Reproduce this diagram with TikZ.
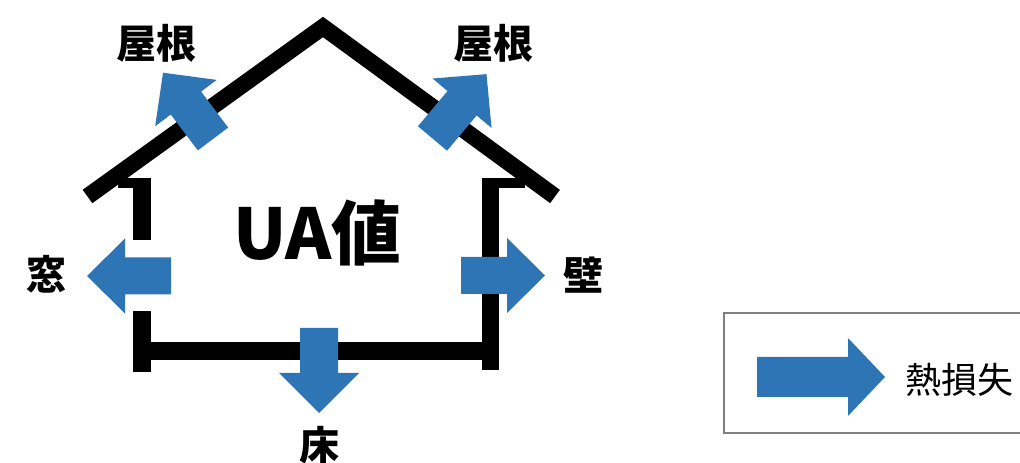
\documentclass[tikz,border=0pt]{standalone}
\usepackage{fontspec}
\newfontfamily\jp{Noto Sans CJK JP}
\definecolor{heatblue}{HTML}{2E75B6}
\definecolor{legendgray}{HTML}{7F7F7F}
\tikzset{
  heat/.style={fill=heatblue},
  wall/.style={fill=black},
  lbl/.style={inner sep=0pt, font=\jp\bfseries\fontsize{40}{40}\selectfont},
  title/.style={inner sep=0pt, font=\jp\bfseries\fontsize{70}{70}\selectfont},
  legendtext/.style={inner sep=0pt, font=\jp\fontsize{36}{36}\selectfont},
}
% base x, base y, angle, length, shaft width, head length, head width
\newcommand\heatarrow[7]{%
  \begin{scope}[shift={(#1,#2)},rotate=#3]
    \fill[heat] (0,{-#5/2}) -- ({#4-#6},{-#5/2}) -- ({#4-#6},{-#7/2}) -- (#4,0)
      -- ({#4-#6},{#7/2}) -- ({#4-#6},{#5/2}) -- (0,{#5/2}) -- cycle;
  \end{scope}}
\begin{document}
\begin{tikzpicture}[x=1pt,y=1pt]
\useasboundingbox (0,0) rectangle (1020,463);
% house outline
\draw[line width=16.5pt, line join=miter, line cap=butt] (87.5,266.5) -- (323,436) -- (555,266.5);
\fill[wall] (133,223) rectangle (151,285);
\fill[wall] (118,275) rectangle (142,285);
\fill[wall] (133,91) rectangle (151,152);
\fill[wall] (142,103) rectangle (490,121);
\fill[wall] (482,93) rectangle (499,285);
\fill[wall] (490,275) rectangle (525,285);
% heat loss arrows
\heatarrow{171}{187}{180}{84}{37}{38}{75}
\heatarrow{461}{187.5}{0}{84}{37}{38}{75}
\heatarrow{319}{135}{-90}{85}{38}{40}{80}
\heatarrow{213}{324}{127}{83}{38}{38}{77}
\heatarrow{432.5}{324.5}{50}{84}{38}{38}{77}
% labels
\node[lbl] (roofL) at (156,419.5) {屋根};
\node[lbl] (roofR) at (493.5,419.5) {屋根};
\node[title] (ua) at (317.5,230) {UA値};
\node[lbl] (window) at (47,189) {窓};
\node[lbl] (wallR) at (583,188) {壁};
\node[lbl] (floor) at (319,18) {床};
% legend
\begin{scope}
  \clip (0,0) rectangle (1020,463);
  \draw[legendgray, line width=2pt] (1030,150) -- (724,150) -- (724,30) -- (1030,30);
\end{scope}
\heatarrow{757}{86}{0}{128}{40}{37}{78}
\node[legendtext] (legend) at (959,83) {熱損失};
\end{tikzpicture}
\end{document}
